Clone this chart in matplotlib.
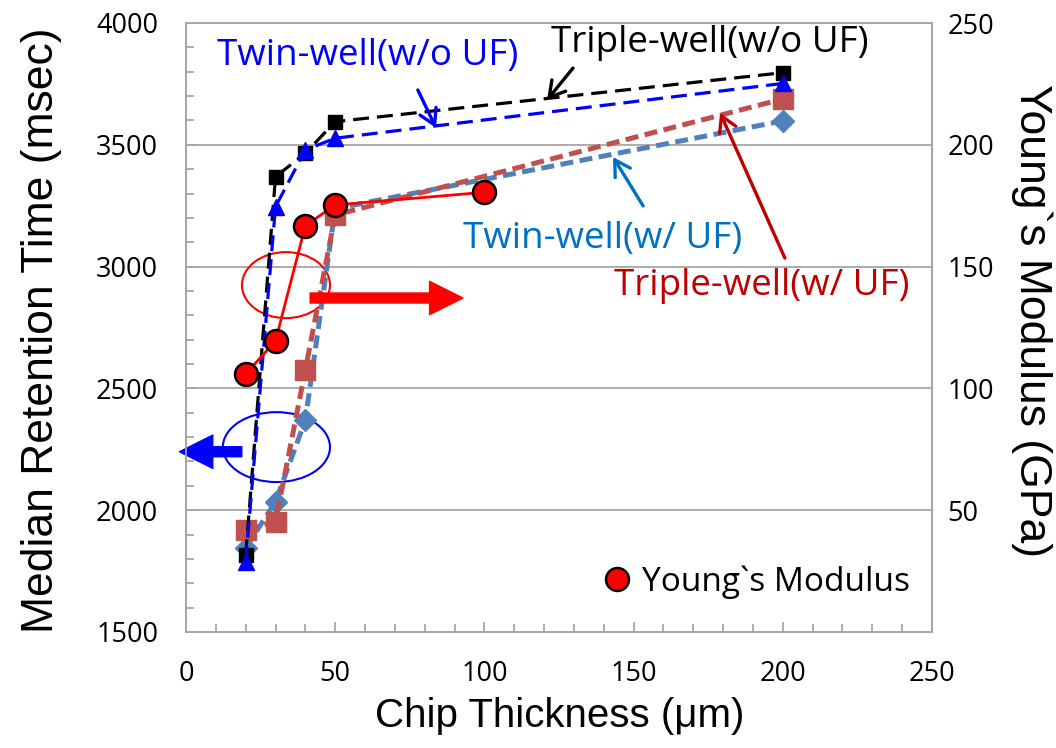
import matplotlib
matplotlib.use('Agg')
import matplotlib.pyplot as plt
from matplotlib.patches import Ellipse
from matplotlib.lines import Line2D

plt.rcParams['font.family'] = ['Open Sans', 'DejaVu Sans']

# ------------------------------------
# data
# ------------------------------------
thickness = [20, 30, 40, 50, 200]
triple_wo_uf = [1815, 3369, 3465, 3595, 3796]
twin_wo_uf = [1789, 3246, 3479, 3527, 3752]
triple_w_uf = [1919, 1953, 2576, 3212, 3688]
twin_w_uf = [1845, 2035, 2370, 3238, 3598]

ym_thickness = [20, 30, 40, 50, 100]
youngs_modulus = [105.9, 119.5, 166.8, 175.3, 180.5]

left_ticks = [1500, 2000, 2500, 3000, 3500, 4000]
right_ticks = [50, 100, 150, 200, 250]
x_ticks = [0, 50, 100, 150, 200, 250]

grey = '#a6a6a6'
brown = '#c0504d'
steel = '#4f81bd'

fig = plt.figure(figsize=(10.56, 7.48), dpi=100)
ax = fig.add_axes([186/1056, 1 - 632/748, 746/1056, 609/748])
ax2 = ax.twinx()

# ------------------------------------
# series
# ------------------------------------
ax.plot(thickness, twin_w_uf, color=steel, lw=3.6, ls=(0, (2.6, 1.3)),
        marker='D', ms=11, mfc=steel, mec=steel)
ax.plot(thickness, triple_w_uf, color=brown, lw=3.6, ls=(0, (2.6, 1.3)),
        marker='s', ms=14, mfc=brown, mec=brown)
ax.plot(thickness, triple_wo_uf, color='black', lw=2.3, ls=(0, (5, 2.5)),
        marker='s', ms=10, mfc='black', mec='black')
ax.plot(thickness, twin_wo_uf, color='#0000ff', lw=2.3, ls=(0, (5, 2.5)),
        marker='^', ms=12, mfc='#0000ff', mec='#0000ff')

ax2.plot(ym_thickness, youngs_modulus, color='#ff0000', lw=2,
         marker='o', ms=16.5, mfc='#ff0000', mec='black', mew=1.8)

# ------------------------------------
# axes
# ------------------------------------
ax.set_xlim(0, 250)
ax.set_ylim(1500, 4000)
ax2.set_ylim(0, 250)
ax.set_xticks(x_ticks)
ax.set_yticks(left_ticks)
ax.set_xticks(range(0, 251, 10), minor=True)
ax.set_yticks(range(1500, 4001, 100), minor=True)
ax2.set_yticks(right_ticks)

ax.tick_params(axis='both', which='both', direction='in', color=grey, width=1.3)
ax.tick_params(axis='both', which='major', length=7, labelsize=19.5)
ax.tick_params(axis='both', which='minor', length=6)
ax.tick_params(axis='y', which='both', pad=20, right=False)
ax.tick_params(axis='x', which='both', pad=20, top=False)
ax2.tick_params(axis='y', length=0, pad=11, labelsize=19.5)

for a in (ax, ax2):
    for s in a.spines.values():
        s.set_color(grey)
        s.set_linewidth(1.3)

for v in [2000, 2500, 3000, 3500]:
    ax.axhline(v, color=grey, lw=1.3, zorder=0)

fig.text(42/1056, 1 - 330/748, 'Median Retention Time (msec)', rotation=90,
         ha='center', va='center', fontsize=32, family='Liberation Sans')
fig.text(1032/1056, 1 - 320/748, 'Young`s Modulus (GPa)', rotation=270,
         ha='center', va='center', fontsize=32, family='Liberation Sans')
fig.text(560/1056, 1 - 716/748, 'Chip Thickness (\u03bcm)',
         ha='center', va='center', fontsize=29, family='Liberation Sans')

# ------------------------------------
# annotations
# ------------------------------------
def label(txt, xy, tail, head, color):
    ax.text(xy[0], xy[1], txt, color=color, fontsize=26.5, ha='center', va='center')
    ax.annotate('', xy=head, xytext=tail, annotation_clip=False,
                arrowprops=dict(arrowstyle='->,head_length=0.55,head_width=0.32',
                                lw=2.4, color=color, shrinkA=0, shrinkB=0,
                                mutation_scale=20))

label('Twin-well(w/o UF)', (61, 3866), (77.7, 3725), (83.8, 3569), '#0000ff')
label('Triple-well(w/o UF)', (175.6, 3919), (129.7, 3815), (121, 3684), 'black')
label('Twin-well(w/ UF)', (139.7, 3114), (153.2, 3249), (143.1, 3450), '#0070c0')
label('Triple-well(w/ UF)', (193, 2921), (200.7, 3035), (179, 3631), '#c00000')

ax.add_patch(Ellipse((33.5, 2924), 29.5, 271, fill=False, ec='#ff0000', lw=1.5))
ax.add_patch(Ellipse((30.3, 2259), 35.9, 287, fill=False, ec='#0000ff', lw=1.5))

ax.annotate('', xy=(92.8, 2871), xytext=(41.6, 2871), annotation_clip=False,
            arrowprops=dict(arrowstyle='simple,head_length=1.2,head_width=1.2,tail_width=0.36',
                            color='#ff0000', shrinkA=0, shrinkB=0, mutation_scale=20))
ax.annotate('', xy=(-2.2, 2240), xytext=(18.7, 2240), annotation_clip=False,
            arrowprops=dict(arrowstyle='simple,head_length=1.2,head_width=1.2,tail_width=0.36',
                            color='#0000ff', shrinkA=0, shrinkB=0, mutation_scale=20))

proxy = Line2D([], [], ls='none', marker='o', ms=16.5, mfc='#ff0000', mec='black', mew=1.8)
ax2.legend(handles=[proxy], labels=['Young`s Modulus'], loc='center left',
           bbox_to_anchor=(0.556, 0.082), frameon=False, fontsize=24,
           handlelength=0.95, handletextpad=0.3, borderpad=0, borderaxespad=0)

fig.savefig('out.png', dpi=100)
